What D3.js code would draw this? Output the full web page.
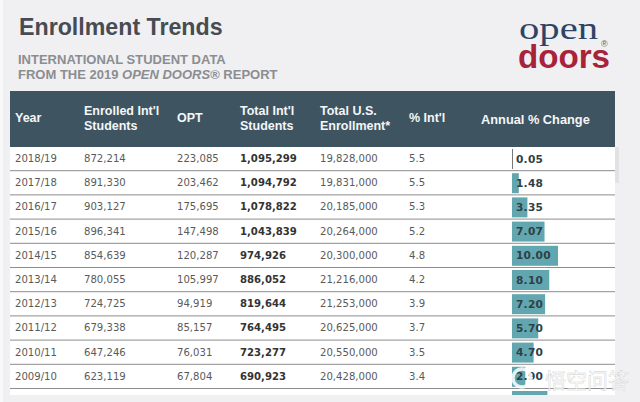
<!DOCTYPE html>
<html><head><meta charset="utf-8">
<script src="https://cdnjs.cloudflare.com/ajax/libs/d3/7.8.5/d3.min.js"></script>
<style>html,body{margin:0;padding:0;background:#f0f0f2;overflow:hidden}svg{display:block}</style>
</head><body><svg id="c" width="640" height="402"></svg>
<script>
const years=["2018/19","2017/18","2016/17","2015/16","2014/15","2013/14","2012/13","2011/12","2010/11","2009/10"];
const enrolled=["872,214","891,330","903,127","896,341","854,639","780,055","724,725","679,338","647,246","623,119"];
const opt=["223,085","203,462","175,695","147,498","120,287","105,997","94,919","85,157","76,031","67,804"];
const total=["1,095,299","1,094,792","1,078,822","1,043,839","974,926","886,052","819,644","764,495","723,277","690,923"];
const usTotal=["19,828,000","19,831,000","20,185,000","20,264,000","20,300,000","21,216,000","21,253,000","20,625,000","20,550,000","20,428,000"];
const pctIntl=["5.5","5.5","5.3","5.2","4.8","4.2","3.9","3.7","3.5","3.4"];
const change=[0.05,1.48,3.35,7.07,10.00,8.10,7.20,5.70,4.70,2.90];
const nextRowChange=7.7;
const headers=[["Year"],["Enrolled Int'l","Students"],["OPT"],["Total Int'l","Students"],["Total U.S.","Enrollment*"],["% Int'l"]];
const colX=[15,84,177,240,320,409];

const svg=d3.select("#c");
const sans="'Liberation Sans',Arial,sans-serif", body="'DejaVu Sans',Verdana,sans-serif";
const x=d3.scaleLinear().domain([0,10]).range([512,558]);
const y=d3.scaleBand().domain(d3.range(11)).range([147,147+24.2*11]);

svg.append("rect").attr("width",3).attr("height",402).attr("fill","#f8f8f9");
svg.append("rect").attr("x",615).attr("y",147).attr("width",4).attr("height",36).attr("fill","#e2e2e4");
svg.append("text").attr("x",19).attr("y",35).attr("font-family",sans).attr("font-weight",700).attr("font-size",23.2).attr("fill","#474b52").text("Enrollment Trends");
const sub=svg.append("g").attr("font-family",sans).attr("font-weight",700).attr("font-size",13).attr("fill","#8b8d91");
sub.append("text").attr("x",18).attr("y",64).text("INTERNATIONAL STUDENT DATA");
const s2=sub.append("text").attr("x",18).attr("y",78.5);
s2.append("tspan").text("FROM THE 2019 ");
s2.append("tspan").attr("font-style","italic").text("OPEN DOORS");
s2.append("tspan").text("® REPORT");

svg.append("text").attr("x",519).attr("y",39).attr("font-family","'Liberation Serif',serif").attr("font-size",32).attr("fill","#2c4468").attr("textLength",79).attr("lengthAdjust","spacingAndGlyphs").text("open");
svg.append("text").attr("x",518).attr("y",68).attr("font-family",sans).attr("font-weight",700).attr("font-size",33).attr("fill","#a82239").attr("textLength",92).attr("lengthAdjust","spacingAndGlyphs").text("doors");
svg.append("text").attr("x",601).attr("y",47).attr("font-family",sans).attr("font-size",9).attr("fill","#55606c").text("®");

svg.append("rect").attr("x",10).attr("y",91).attr("width",605).attr("height",56).attr("fill","#3f5461");
const hg=svg.append("g").attr("font-family",sans).attr("font-weight",700).attr("font-size",12.5).attr("fill","#f4f6f7");
headers.forEach((h,i)=>{
  h.forEach((t,j)=>{
    hg.append("text").attr("x",colX[i]).attr("y",(h.length===1?122:115+15*j)-(h.length>1?0.5:0)).text(t);
  });
});
hg.append("text").attr("x",481).attr("y",124).attr("font-size",12.8).text("Annual % Change");

svg.append("rect").attr("x",10).attr("y",147).attr("width",605).attr("height",248).attr("fill","#fff");

const rows=svg.append("g");
const bars=rows.selectAll("rect.bar").data(change).join("rect").attr("class","bar")
  .attr("x",x(0)).attr("y",(d,i)=>y(i)+2).attr("width",d=>x(d)-x(0)).attr("height",20).attr("fill","#62a7b0");
bars.filter(d=>d<0.1).attr("width",0.8).attr("fill","#555");
rows.append("rect").attr("x",x(0)).attr("y",391).attr("width",x(nextRowChange)-x(0)).attr("height",4).attr("fill","#62a7b0");

rows.selectAll("line").data(d3.range(1,11)).join("line")
  .attr("x1",10).attr("x2",615).attr("y1",d=>y(d)-0.5).attr("y2",d=>y(d)-0.5)
  .attr("stroke","#8d8d8d").attr("stroke-width",1);

const cols=[[years,0],[enrolled,1],[opt,2],[total,3],[usTotal,4],[pctIntl,5]];
cols.forEach(([arr,ci])=>{
  rows.append("g").selectAll("text").data(arr).join("text")
    .attr("x",colX[ci]).attr("y",(d,i)=>y(i)+15)
    .attr("font-family",body).attr("font-size",10.1)
    .attr("font-weight",ci===3?700:400).attr("fill",ci===3?"#333":"#5a5a5a").text(d=>d);
});
rows.append("g").selectAll("text").data(change).join("text")
  .attr("x",516).attr("y",(d,i)=>y(i)+15.5)
  .attr("font-family",body).attr("font-size",10.6).attr("font-weight",700).attr("letter-spacing",.25)
  .attr("fill","#2f3f48").text(d=>d3.format(".2f")(d));

// watermark
const wm=svg.append("g").attr("opacity",.85);
wm.append("circle").attr("cx",522).attr("cy",378).attr("r",9).attr("fill","none").attr("stroke","#fff").attr("stroke-width",3.5);
wm.append("text").attr("x",545).attr("y",388).attr("font-family","'Noto Sans CJK SC'").attr("font-size",21).attr("fill","#fff").attr("stroke","#c4c4c4").attr("stroke-width",.4).text("悟空问答");
</script></body></html>
